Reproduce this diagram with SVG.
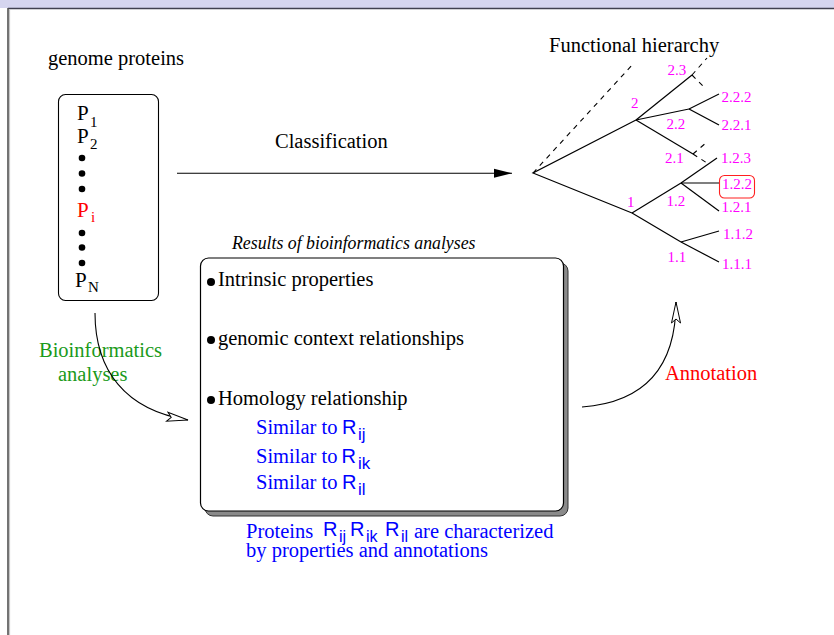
<svg xmlns="http://www.w3.org/2000/svg" width="834" height="635" viewBox="0 0 834 635">
<style>
.serif{font-family:"Liberation Serif","Times New Roman",serif;}
.sans{font-family:"Liberation Sans",Arial,sans-serif;}
.t{font-size:20.5px;fill:#000;}
.mag{font-size:15px;fill:#ff00ff;}
.blue{fill:#0000ff;}
.green{fill:#1a9a1a;}
.red{fill:#ff0000;}
.tree{stroke:#000;stroke-width:1.2;fill:none;}
.dash{stroke:#000;stroke-width:1.1;fill:none;stroke-dasharray:5,5;}
.conn{stroke:#000;stroke-width:1.1;fill:none;}
.pp{font-size:21px;}
.ps{font-size:15px;}
</style>
<defs>
<marker id="solid" markerUnits="userSpaceOnUse" markerWidth="20" markerHeight="12" viewBox="-19 -6 20 12" refX="0" refY="0" orient="auto">
<path d="M0,0 L-18,-4.5 L-18,4.5 Z" fill="#000"/>
</marker>
<marker id="open" markerUnits="userSpaceOnUse" markerWidth="24" markerHeight="14" viewBox="-22 -7 24 14" refX="0" refY="0" orient="auto">
<path d="M0,0 L-21,-4.5 L-17,0 L-21,4.5 Z" fill="#fff" stroke="#000" stroke-width="1"/>
</marker>
</defs>
<rect x="0" y="0" width="834" height="635" fill="#fff"/>
<g id="frame">
<rect x="0" y="0" width="834" height="8" fill="#d5d5ef"/>
<line x1="8" y1="8.5" x2="834" y2="8.5" stroke="#40404f" stroke-width="1.6"/>
<line x1="8" y1="8" x2="8" y2="635" stroke="#505050" stroke-width="1.6"/>
<line x1="9.6" y1="9.5" x2="9.6" y2="635" stroke="#b0b0b0" stroke-width="0.8"/>
</g>

<g id="genome-proteins">
<text class="serif t" x="48" y="65">genome proteins</text>
<rect x="58.5" y="94.5" width="100" height="206" rx="7" fill="#fff" stroke="#000" stroke-width="1.1"/>
<text class="serif pp" x="77" y="120">P</text><text class="serif ps" x="90" y="127">1</text>
<text class="serif pp" x="77" y="143">P</text><text class="serif ps" x="90" y="149">2</text>
<circle cx="82" cy="158" r="3.3"/><circle cx="82" cy="173.5" r="3.3"/><circle cx="82" cy="189" r="3.3"/>
<text class="serif pp red" x="77" y="217">P</text><text class="serif ps red" x="91" y="222">i</text>
<circle cx="82" cy="233" r="3.3"/><circle cx="82" cy="247.5" r="3.3"/><circle cx="82" cy="263" r="3.3"/>
<text class="serif pp" x="75" y="287">P</text><text class="serif ps" x="88" y="292">N</text>
</g>

<g id="classification-label">
<text class="serif t" x="275" y="148">Classification</text>
</g>

<g id="results">
<text class="serif" font-size="17.8" font-style="italic" x="232" y="249">Results of bioinformatics analyses</text>
<rect x="205" y="263" width="363" height="253" rx="8" fill="#8a8a8a" stroke="#333" stroke-width="1"/>
<rect x="200.5" y="258" width="363" height="253" rx="8" fill="#fff" stroke="#000" stroke-width="1.2"/>
<circle cx="211" cy="282" r="4"/>
<text class="serif t" x="218" y="286">Intrinsic properties</text>
<circle cx="211" cy="340" r="4"/>
<text class="serif t" x="218" y="345">genomic context relationships</text>
<circle cx="211" cy="400" r="4"/>
<text class="serif t" x="218" y="405">Homology relationship</text>
<text class="serif blue" font-size="20.5" x="256" y="434">Similar to</text><text class="sans blue" font-size="20" x="342" y="434">R</text><text class="sans blue" font-size="17" x="358" y="440">ij</text>
<text class="serif blue" font-size="20.5" x="256" y="463">Similar to</text><text class="sans blue" font-size="20" x="341.5" y="463">R</text><text class="sans blue" font-size="17" x="358" y="469">ik</text>
<text class="serif blue" font-size="20.5" x="256" y="489">Similar to</text><text class="sans blue" font-size="20" x="342" y="489">R</text><text class="sans blue" font-size="17" x="358" y="495">il</text>
</g>

<g id="proteins-note">
<text class="serif blue" font-size="20.5" x="246" y="538">Proteins</text>
<text class="sans blue" font-size="20" x="323" y="536">R</text><text class="sans blue" font-size="16" x="339" y="542">ij</text>
<text class="sans blue" font-size="20" x="350" y="536">R</text><text class="sans blue" font-size="16" x="366" y="542">ik</text>
<text class="sans blue" font-size="20" x="385" y="536">R</text><text class="sans blue" font-size="16" x="401" y="542">il</text>
<text class="serif blue" font-size="20.5" x="414" y="538">are characterized</text>
<text class="serif blue" font-size="20.5" x="246" y="557">by properties and annotations</text>
</g>

<g id="bioinformatics-label">
<text class="serif green" font-size="20.5" x="39" y="357">Bioinformatics</text>
<text class="serif green" font-size="20.5" x="58" y="381">analyses</text>
</g>

<g id="annotation-label">
<text class="serif red" font-size="20.5" x="665" y="380">Annotation</text>
</g>

<g id="hierarchy">
<text class="serif t" x="549" y="52">Functional hierarchy</text>
<line class="dash" x1="533" y1="173" x2="634" y2="63"/>
<polyline class="tree" points="636,120 533,173 632,213"/>
<line class="tree" x1="636" y1="120" x2="692" y2="75"/>
<line class="dash" x1="692" y1="75" x2="707" y2="58"/>
<line class="dash" x1="692" y1="75" x2="705" y2="88"/>
<line class="tree" x1="636" y1="120" x2="689" y2="109"/>
<line class="tree" x1="689" y1="109" x2="719" y2="94"/>
<line class="tree" x1="689" y1="109" x2="719" y2="125"/>
<line class="tree" x1="636" y1="120" x2="693" y2="154"/>
<line class="dash" x1="693" y1="154" x2="707" y2="142"/>
<line class="dash" x1="693" y1="154" x2="707" y2="163"/>
<line class="tree" x1="632" y1="213" x2="681" y2="183"/>
<line class="tree" x1="681" y1="183" x2="717" y2="158"/>
<line class="tree" x1="681" y1="183" x2="719.5" y2="183"/>
<line class="tree" x1="681" y1="183" x2="719" y2="211"/>
<line class="tree" x1="632" y1="213" x2="681" y2="242"/>
<line class="tree" x1="681" y1="242" x2="719" y2="231"/>
<line class="tree" x1="681" y1="242" x2="719" y2="262"/>
<rect x="719.5" y="175.5" width="35" height="22.5" rx="5" fill="none" stroke="#ff2020" stroke-width="1.1"/>
<text class="serif mag" x="667.5" y="75">2.3</text>
<text class="serif mag" x="631" y="108">2</text>
<text class="serif mag" x="666.5" y="129">2.2</text>
<text class="serif mag" x="665" y="163">2.1</text>
<text class="serif mag" x="627" y="207">1</text>
<text class="serif mag" x="666.5" y="206">1.2</text>
<text class="serif mag" x="667.5" y="262">1.1</text>
<text class="serif mag" x="721.5" y="102">2.2.2</text>
<text class="serif mag" x="721.5" y="130">2.2.1</text>
<text class="serif mag" x="721" y="163">1.2.3</text>
<text class="serif mag" x="722" y="188.5">1.2.2</text>
<text class="serif mag" x="721.5" y="212">1.2.1</text>
<text class="serif mag" x="723" y="238.5">1.1.2</text>
<text class="serif mag" x="722" y="268.5">1.1.1</text>
</g>

<g id="connectors">
<line class="conn" x1="177" y1="173.3" x2="512" y2="173.3" marker-end="url(#solid)"/>
<path class="conn" d="M95,313 C95,370 125,410 188,420" marker-end="url(#open)"/>
<path class="conn" d="M582,407 Q676,400 676,302" marker-end="url(#open)"/>
</g>
</svg>
